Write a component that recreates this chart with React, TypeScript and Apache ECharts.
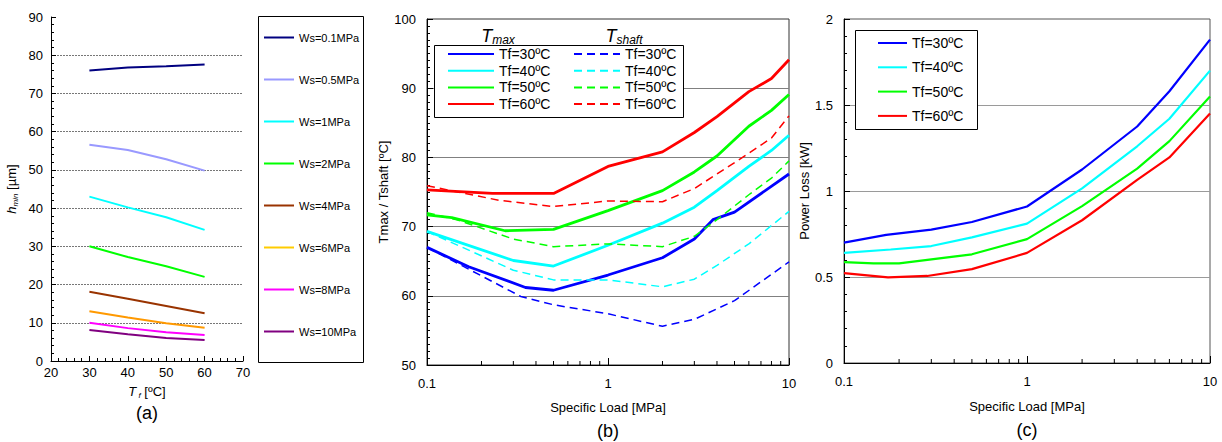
import React, { useEffect, useRef } from 'react';
import * as echarts from 'echarts';

const FONT = 'Liberation Sans, Arial, Helvetica, sans-serif';

// ---------- Panel (a): h_min vs T_f ----------
const tfValues = [30, 40, 50, 60];
const wsLabels = ['Ws=0.1MPa', 'Ws=0.5MPa', 'Ws=1MPa', 'Ws=2MPa', 'Ws=4MPa', 'Ws=6MPa', 'Ws=8MPa', 'Ws=10MPa'];
const hminWs01 = [76.0, 76.8, 77.1, 77.6];
const hminWs05 = [56.6, 55.2, 52.8, 49.8];
const hminWs1 = [43.0, 40.2, 37.6, 34.3];
const hminWs2 = [30.0, 27.2, 24.8, 22.0];
const hminWs4 = [18.1, 16.3, 14.4, 12.5];
const hminWs6 = [13.0, 11.4, 9.9, 8.7];
const hminWs8 = [10.0, 8.6, 7.5, 6.8];
const hminWs10 = [8.1, 7.0, 6.0, 5.5];
const hminAll = [hminWs01, hminWs05, hminWs1, hminWs2, hminWs4, hminWs6, hminWs8, hminWs10];
const wsColors = ['#000080', '#9999FF', '#00FFFF', '#00FF00', '#993300', '#FF9900', '#FF00FF', '#800080'];

// ---------- Panel (b): Tmax / Tshaft vs specific load ----------
const tfLabels = ['Tf=30ºC', 'Tf=40ºC', 'Tf=50ºC', 'Tf=60ºC'];
const tfColors = ['#0000FF', '#00FFFF', '#00FF00', '#FF0000'];

const tmax30Load = [0.1, 0.17, 0.35, 0.5, 1, 2, 3, 3.8, 5, 10];
const tmax30Temp = [67.0, 64.2, 61.2, 60.8, 63.0, 65.5, 68.2, 71.0, 72.1, 77.6];
const tmax40Load = [0.1, 0.3, 0.5, 1, 2, 3, 4, 6, 8, 10];
const tmax40Temp = [69.3, 65.1, 64.3, 67.3, 70.5, 72.8, 75.2, 78.7, 81.0, 83.2];
const tmax50Load = [0.1, 0.137, 0.27, 0.5, 1, 2, 3, 4, 6, 8, 10];
const tmax50Temp = [71.7, 71.3, 69.4, 69.6, 72.3, 75.2, 77.9, 80.2, 84.5, 86.8, 89.1];
const tmax60Load = [0.1, 0.23, 0.5, 1, 2, 3, 4, 6, 8, 10];
const tmax60Temp = [75.3, 74.8, 74.8, 78.7, 80.8, 83.6, 85.9, 89.5, 91.4, 94.1];

const tshaft30Load = [0.1, 0.33, 0.5, 1, 2, 3, 5, 10];
const tshaft30Temp = [67.0, 59.9, 58.7, 57.4, 55.6, 56.6, 59.3, 64.9];
const tshaft40Load = [0.1, 0.3, 0.5, 1, 2, 3, 4, 6, 10];
const tshaft40Temp = [69.3, 63.7, 62.3, 62.3, 61.3, 62.4, 64.4, 67.5, 72.2];
const tshaft50Load = [0.1, 0.146, 0.3, 0.5, 1, 2, 3, 4, 6, 8, 10];
const tshaft50Temp = [72.0, 71.0, 68.2, 67.1, 67.5, 67.1, 68.6, 71.0, 74.6, 77.0, 79.5];
const tshaft60Load = [0.1, 0.25, 0.5, 1, 2, 3, 4, 6, 8, 10];
const tshaft60Temp = [75.9, 73.8, 72.9, 73.7, 73.6, 75.5, 77.6, 80.6, 82.8, 86.0];

// ---------- Panel (c): power loss vs specific load ----------
const ploss30Load = [0.1, 0.17, 0.3, 0.5, 1, 2, 4, 6, 10];
const ploss30Kw = [0.70, 0.745, 0.775, 0.82, 0.91, 1.125, 1.375, 1.58, 1.88];
const ploss40Load = [0.1, 0.18, 0.3, 0.5, 1, 2, 4, 6, 10];
const ploss40Kw = [0.64, 0.66, 0.68, 0.73, 0.81, 1.015, 1.26, 1.42, 1.70];
const ploss50Load = [0.1, 0.145, 0.2, 0.5, 1, 2, 4, 6, 10];
const ploss50Kw = [0.587, 0.579, 0.579, 0.632, 0.72, 0.912, 1.13, 1.29, 1.55];
const ploss60Load = [0.1, 0.174, 0.285, 0.5, 1, 2, 4, 6, 10];
const ploss60Kw = [0.523, 0.498, 0.506, 0.546, 0.64, 0.83, 1.065, 1.195, 1.45];

const logMinorTicks = [0.2, 0.3, 0.4, 0.5, 0.6, 0.7, 0.8, 0.9, 2, 3, 4, 5, 6, 7, 8, 9];

const zip = (xs: number[], ys: number[]) => xs.map((x, i) => [x, ys[i]]);

const tmaxSeries = [zip(tmax30Load, tmax30Temp), zip(tmax40Load, tmax40Temp), zip(tmax50Load, tmax50Temp), zip(tmax60Load, tmax60Temp)];
const tshaftSeries = [zip(tshaft30Load, tshaft30Temp), zip(tshaft40Load, tshaft40Temp), zip(tshaft50Load, tshaft50Temp), zip(tshaft60Load, tshaft60Temp)];
const plossSeries = [zip(ploss30Load, ploss30Kw), zip(ploss40Load, ploss40Kw), zip(ploss50Load, ploss50Kw), zip(ploss60Load, ploss60Kw)];

const axisLabelStyle = { color: '#000', fontSize: 13, fontFamily: FONT };
const nameStyle = { color: '#000', fontSize: 13, fontFamily: FONT };

function minorTickSeries(xi: number, yBase: number) {
  return {
    type: 'custom',
    xAxisIndex: xi,
    yAxisIndex: xi,
    silent: true,
    clip: false,
    z: 6,
    data: logMinorTicks.map((v) => [v, yBase]),
    renderItem: (_p: any, api: any) => {
      const pt = api.coord([api.value(0), api.value(1)]);
      return {
        type: 'line',
        shape: { x1: pt[0], y1: pt[1], x2: pt[0], y2: pt[1] - 4 },
        style: { stroke: '#000', lineWidth: 1 },
      };
    },
  };
}

export default function App() {
  const ref = useRef<HTMLDivElement>(null);
  useEffect(() => {
    if (!ref.current) return;
    const chart = echarts.init(ref.current, undefined, { renderer: 'svg' });

    const series: any[] = [];
    hminAll.forEach((vals, i) => {
      series.push({
        type: 'line', name: wsLabels[i], xAxisIndex: 0, yAxisIndex: 0,
        data: zip(tfValues, vals), symbol: 'none', showSymbol: false,
        lineStyle: { color: wsColors[i], width: 2 }, itemStyle: { color: wsColors[i] },
      });
    });
    tmaxSeries.forEach((d, i) => {
      series.push({
        type: 'line', name: 'max|' + tfLabels[i], xAxisIndex: 1, yAxisIndex: 1,
        data: d, symbol: 'none', showSymbol: false,
        lineStyle: { color: tfColors[i], width: 2.8 }, itemStyle: { color: tfColors[i] },
      });
    });
    tshaftSeries.forEach((d, i) => {
      series.push({
        type: 'line', name: 'shaft|' + tfLabels[i], xAxisIndex: 1, yAxisIndex: 1,
        data: d, symbol: 'none', showSymbol: false,
        lineStyle: { color: tfColors[i], width: 1.5, type: [8, 5] }, itemStyle: { color: tfColors[i] },
      });
    });
    plossSeries.forEach((d, i) => {
      series.push({
        type: 'line', name: tfLabels[i], xAxisIndex: 2, yAxisIndex: 2,
        data: d, symbol: 'none', showSymbol: false,
        lineStyle: { color: tfColors[i], width: 2.2 }, itemStyle: { color: tfColors[i] },
      });
    });
    series.push(minorTickSeries(1, 50));
    series.push(minorTickSeries(2, 0));

    const legendText = { color: '#000', fontFamily: FONT };
    const noSymbol = { opacity: 0, borderWidth: 0 };

    const option: any = {
      animation: false,
      backgroundColor: '#fff',
      textStyle: { fontFamily: FONT },
      grid: [
        { left: 51, top: 17, width: 192, height: 344 },
        { left: 427, top: 19, width: 362, height: 346, show: true, borderColor: '#333', borderWidth: 1, backgroundColor: 'transparent' },
        { left: 844, top: 19, width: 366, height: 344, show: true, borderColor: '#555', borderWidth: 1, backgroundColor: 'transparent' },
      ],
      xAxis: [
        {
          type: 'value', gridIndex: 0, min: 20, max: 70, interval: 10,
          axisLine: { lineStyle: { color: '#000' } },
          axisTick: { inside: true, length: 5, lineStyle: { color: '#000' } },
          minorTick: { show: true, splitNumber: 5, length: 3, lineStyle: { color: '#000' } },
          axisLabel: { ...axisLabelStyle, margin: 5 },
          splitLine: { show: false },
          name: '{it|T}{sub| f} [ºC]', nameLocation: 'middle', nameGap: 22,
          nameTextStyle: {
            ...nameStyle,
            rich: {
              it: { fontStyle: 'italic', fontSize: 13, lineHeight: 16, fontFamily: FONT, color: '#000' },
              sub: { fontStyle: 'italic', fontSize: 8, lineHeight: 9, verticalAlign: 'bottom', fontFamily: FONT, color: '#000' },
            },
          },
        },
        {
          type: 'log', gridIndex: 1, min: 0.1, max: 10, logBase: 10,
          axisLine: { lineStyle: { color: '#000' } },
          axisTick: { inside: true, length: 7, lineStyle: { color: '#000' } },
          axisLabel: { ...axisLabelStyle, margin: 12, formatter: (v: number) => String(v) },
          splitLine: { show: false },
          name: 'Specific Load [MPa]', nameLocation: 'middle', nameGap: 36, nameTextStyle: nameStyle,
        },
        {
          type: 'log', gridIndex: 2, min: 0.1, max: 10, logBase: 10,
          axisLine: { lineStyle: { color: '#000' } },
          axisTick: { inside: true, length: 7, lineStyle: { color: '#000' } },
          axisLabel: { ...axisLabelStyle, margin: 12, formatter: (v: number) => String(v) },
          splitLine: { show: false },
          name: 'Specific Load [MPa]', nameLocation: 'middle', nameGap: 37, nameTextStyle: nameStyle,
        },
      ],
      yAxis: [
        {
          type: 'value', gridIndex: 0, min: 0, max: 90, interval: 10,
          axisLine: { show: true, lineStyle: { color: '#000' } },
          axisTick: { show: true, inside: true, length: 5, lineStyle: { color: '#000' } },
          minorTick: { show: true, splitNumber: 5, length: 3, lineStyle: { color: '#000' } },
          axisLabel: { ...axisLabelStyle, margin: 8 },
          splitLine: { show: true, showMinLine: false, showMaxLine: false, lineStyle: { color: '#777', type: [2, 1] } },
          name: '{it|h}{sub|min} [µm]', nameLocation: 'middle', nameGap: 32,
          nameTextStyle: {
            ...nameStyle,
            rich: {
              it: { fontStyle: 'italic', fontSize: 13, lineHeight: 16, fontFamily: FONT, color: '#000' },
              sub: { fontStyle: 'italic', fontSize: 8, lineHeight: 9, verticalAlign: 'bottom', fontFamily: FONT, color: '#000' },
            },
          },
        },
        {
          type: 'value', gridIndex: 1, min: 50, max: 100, interval: 10,
          axisLine: { show: true, lineStyle: { color: '#000' } },
          axisTick: { show: true, inside: true, length: 6, lineStyle: { color: '#000' } },
          minorTick: { show: true, splitNumber: 10, length: 3, lineStyle: { color: '#000' } },
          axisLabel: { ...axisLabelStyle, margin: 11 },
          splitLine: { show: true, showMinLine: false, showMaxLine: false, lineStyle: { color: '#808080' } },
          name: 'Tmax / Tshaft [ºC]', nameLocation: 'middle', nameGap: 37, nameTextStyle: nameStyle,
        },
        {
          type: 'value', gridIndex: 2, min: 0, max: 2, interval: 0.5,
          axisLine: { show: true, lineStyle: { color: '#000' } },
          axisTick: { show: true, inside: true, length: 6, lineStyle: { color: '#000' } },
          minorTick: { show: true, splitNumber: 5, length: 3, lineStyle: { color: '#000' } },
          axisLabel: { ...axisLabelStyle, margin: 11 },
          splitLine: { show: true, showMinLine: false, showMaxLine: false, lineStyle: { color: '#9a9a9a' } },
          name: 'Power Loss [kW]', nameLocation: 'middle', nameGap: 32, nameTextStyle: nameStyle,
        },
      ],
      legend: [
        {
          data: wsLabels.map((n, i) => (i === 5 ? { name: n, lineStyle: { color: '#FFCC00' } } : n)),
          orient: 'vertical', left: 263, top: 32, padding: 0,
          itemWidth: 30, itemHeight: 12, itemGap: 31, selectedMode: false,
          itemStyle: noSymbol,
          textStyle: { ...legendText, fontSize: 11 },
        },
        {
          data: tfLabels.map((n) => 'max|' + n),
          formatter: (n: string) => n.split('|')[1],
          orient: 'vertical', left: 447, top: 47, padding: 0,
          itemWidth: 46, itemHeight: 14, itemGap: 2.7, selectedMode: false,
          itemStyle: noSymbol,
          textStyle: { ...legendText, fontSize: 14 },
        },
        {
          data: tfLabels.map((n) => 'shaft|' + n),
          formatter: (n: string) => n.split('|')[1],
          orient: 'vertical', left: 573, top: 47, padding: 0,
          itemWidth: 46, itemHeight: 14, itemGap: 2.7, selectedMode: false,
          itemStyle: noSymbol,
          textStyle: { ...legendText, fontSize: 14 },
        },
        {
          data: tfLabels,
          orient: 'vertical', left: 877, top: 36, padding: 0,
          itemWidth: 29, itemHeight: 14, itemGap: 10.3, selectedMode: false,
          itemStyle: noSymbol,
          textStyle: { ...legendText, fontSize: 14 },
        },
      ],
      graphic: [
        { type: 'rect', z: 1, shape: { x: 258.5, y: 16.5, width: 105, height: 346 }, style: { fill: '#fff', stroke: '#000', lineWidth: 1 } },
        { type: 'rect', z: 1, shape: { x: 434.5, y: 45.5, width: 249, height: 72 }, style: { fill: '#fff', stroke: '#000', lineWidth: 1 } },
        { type: 'rect', z: 1, shape: { x: 855.5, y: 30.5, width: 122, height: 99 }, style: { fill: '#fff', stroke: '#000', lineWidth: 1 } },
        {
          type: 'text', z: 5, x: 498, y: 36,
          style: {
            text: '{T|T}{s|max}', align: 'center', verticalAlign: 'middle',
            rich: {
              T: { fontSize: 18, fontStyle: 'italic', fontFamily: FONT, fill: '#000', lineHeight: 20 },
              s: { fontSize: 12, fontStyle: 'italic', fontFamily: FONT, fill: '#000', lineHeight: 13, verticalAlign: 'bottom' },
            },
          },
        },
        {
          type: 'text', z: 5, x: 624, y: 36,
          style: {
            text: '{T|T}{s|shaft}', align: 'center', verticalAlign: 'middle',
            rich: {
              T: { fontSize: 18, fontStyle: 'italic', fontFamily: FONT, fill: '#000', lineHeight: 20 },
              s: { fontSize: 12, fontStyle: 'italic', fontFamily: FONT, fill: '#000', lineHeight: 13, verticalAlign: 'bottom' },
            },
          },
        },
        { type: 'text', z: 5, x: 147, y: 413, style: { text: '(a)', fontSize: 18, fontFamily: FONT, fill: '#000', align: 'center', verticalAlign: 'middle' } },
        { type: 'text', z: 5, x: 608, y: 431, style: { text: '(b)', fontSize: 18, fontFamily: FONT, fill: '#000', align: 'center', verticalAlign: 'middle' } },
        { type: 'text', z: 5, x: 1027, y: 430, style: { text: '(c)', fontSize: 18, fontFamily: FONT, fill: '#000', align: 'center', verticalAlign: 'middle' } },
      ],
      series,
    };
    chart.setOption(option);
    return () => chart.dispose();
  }, []);
  return <div ref={ref} style={{ position: 'fixed', left: 0, top: 0, width: 1222, height: 442, background: '#fff' }} />;
}
